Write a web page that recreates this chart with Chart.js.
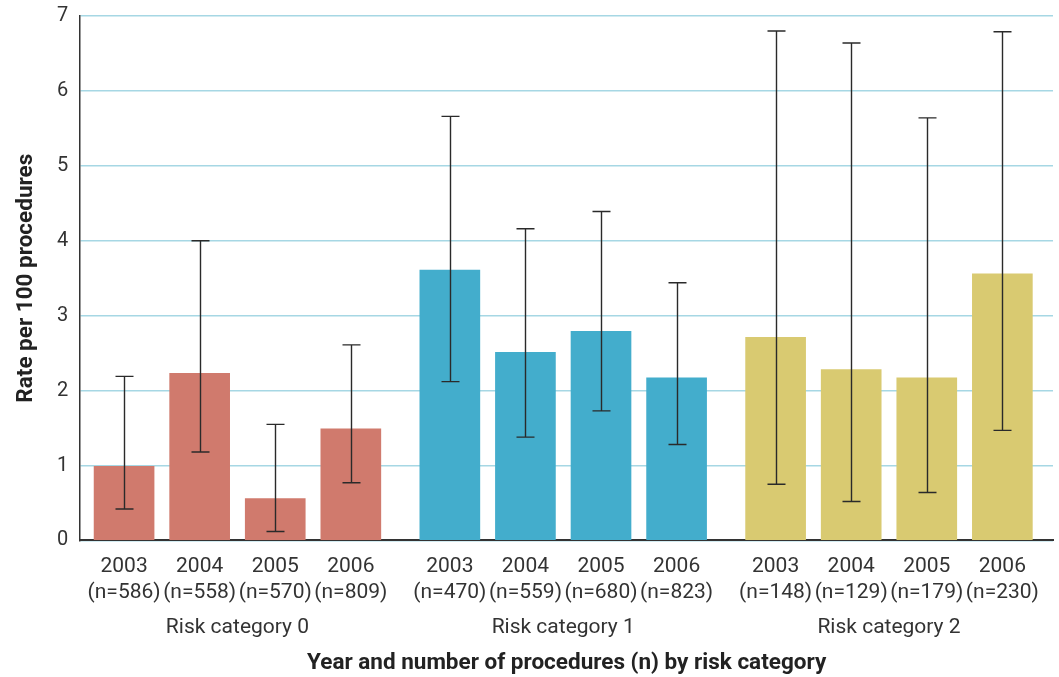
<!DOCTYPE html>
<html>
<head>
<meta charset="utf-8">
<script src="https://cdn.jsdelivr.net/npm/chart.js@4/dist/chart.umd.min.js"></script>
<style>
  html, body { margin: 0; padding: 0; background: #ffffff; }
  #wrap { width: 1059px; height: 677px; }
</style>
</head>
<body>
<div id="wrap"><canvas id="chart" width="1059" height="677"></canvas></div>
<script>
// Years and risk categories
const years = ['2003', '2004', '2005', '2006'];
const riskCategories = ['Risk category 0', 'Risk category 1', 'Risk category 2'];

// Number of procedures per year, by risk category
const procedures0 = [586, 558, 570, 809];
const procedures1 = [470, 559, 680, 823];
const procedures2 = [148, 129, 179, 230];

// Rate per 100 procedures with lower / upper confidence limits
const rate0 = [0.99, 2.23, 0.56, 1.49];
const lower0 = [0.42, 1.18, 0.12, 0.77];
const upper0 = [2.19, 4.00, 1.55, 2.61];

const rate1 = [3.61, 2.51, 2.79, 2.17];
const lower1 = [2.12, 1.38, 1.73, 1.28];
const upper1 = [5.66, 4.16, 4.39, 3.44];

const rate2 = [2.71, 2.28, 2.17, 3.56];
const lower2 = [0.75, 0.52, 0.64, 1.47];
const upper2 = [6.80, 6.64, 5.64, 6.79];

// Y-axis ticks
const yTicks = [0, 1, 2, 3, 4, 5, 6, 7];

// ---- layout helpers ----
// Bars sit one slot apart; each risk category group is separated by an extra gap.
const GROUP_GAP = 1.31;
function posOf(g, j) { return g * (years.length - 1 + GROUP_GAP) + j; }

const groups = [
  { procedures: procedures0, rate: rate0, lower: lower0, upper: upper0, color: '#D07A6D' },
  { procedures: procedures1, rate: rate1, lower: lower1, upper: upper1, color: '#43ADCC' },
  { procedures: procedures2, rate: rate2, lower: lower2, upper: upper2, color: '#D9CA71' }
];

const barPositions = [];
const barLabels = [];
groups.forEach((grp, g) => {
  years.forEach((yr, j) => {
    barPositions.push(posOf(g, j));
    barLabels.push([yr, '(n=' + grp.procedures[j] + ')']);
  });
});
const groupCenters = riskCategories.map((_, g) => posOf(g, (years.length - 1) / 2));

const datasets = groups.map((grp, g) => ({
  label: riskCategories[g],
  data: years.map((_, j) => ({ x: posOf(g, j), y: grp.rate[j], lo: grp.lower[j], hi: grp.upper[j] })),
  backgroundColor: grp.color,
  borderWidth: 0,
  barThickness: 60,
  grouped: false,
  xAxisID: 'x',
  yAxisID: 'y'
}));

// Confidence interval whiskers
const errorBars = {
  id: 'errorBars',
  afterDatasetsDraw(chart) {
    const { ctx } = chart;
    const yScale = chart.scales.y;
    ctx.save();
    ctx.strokeStyle = '#2a2a2a';
    ctx.lineWidth = 1.4;
    chart.data.datasets.forEach((ds, di) => {
      const meta = chart.getDatasetMeta(di);
      meta.data.forEach((bar, i) => {
        const pt = ds.data[i];
        const x = Math.round(bar.x) + 0.5;
        const yHi = yScale.getPixelForValue(pt.hi);
        const yLo = yScale.getPixelForValue(pt.lo);
        const cap = 9;
        ctx.beginPath();
        ctx.moveTo(x, yHi); ctx.lineTo(x, yLo);
        ctx.moveTo(x - cap, yHi); ctx.lineTo(x + cap, yHi);
        ctx.moveTo(x - cap, yLo); ctx.lineTo(x + cap, yLo);
        ctx.stroke();
      });
    });
    ctx.restore();
  }
};

const FONT = "Roboto, 'Liberation Sans', Arial, sans-serif";
const xMin = -0.58;
const xMax = posOf(groups.length - 1, years.length - 1) + 0.67;

new Chart(document.getElementById('chart'), {
  type: 'bar',
  data: { datasets },
  options: {
    responsive: false,
    animation: false,
    events: [],
    layout: { padding: { top: 16, right: 6, left: 0, bottom: 0 } },
    plugins: { legend: { display: false }, tooltip: { enabled: false } },
    scales: {
      x: {
        type: 'linear',
        position: 'bottom',
        offset: false,
        min: xMin,
        max: xMax,
        grid: { display: false, drawTicks: false, offset: false },
        border: { display: true, color: '#333333', width: 2 },
        afterBuildTicks: (scale) => { scale.ticks = barPositions.map(v => ({ value: v })); },
        afterFit: (scale) => { scale.height = 65; },
        ticks: {
          autoSkip: false,
          maxRotation: 0,
          minRotation: 0,
          padding: 13,
          color: '#333333',
          font: { family: FONT, size: 21, lineHeight: 1.25 },
          callback: (value, index) => barLabels[index]
        }
      },
      x2: {
        type: 'linear',
        position: 'bottom',
        offset: false,
        min: xMin,
        max: xMax,
        grid: { display: false, drawTicks: false, offset: false },
        border: { display: false },
        afterBuildTicks: (scale) => { scale.ticks = groupCenters.map(v => ({ value: v })); },
        ticks: {
          autoSkip: false,
          maxRotation: 0,
          minRotation: 0,
          padding: 10,
          color: '#333333',
          font: { family: FONT, size: 21, lineHeight: 1.2 },
          callback: (value, index) => riskCategories[index]
        },
        title: {
          display: true,
          text: 'Year and number of procedures (n) by risk category',
          color: '#222222',
          font: { family: FONT, size: 22.5, weight: 'bold', lineHeight: 1.17 },
          padding: { top: 0, bottom: 0 }
        }
      },
      y: {
        min: 0,
        max: 7,
        afterBuildTicks: (scale) => { scale.ticks = yTicks.map(v => ({ value: v })); },
        afterFit: (scale) => { scale.paddingTop = 0; scale.paddingBottom = 0; },
        grid: { color: '#A6D7E4', lineWidth: 1.5, drawTicks: false },
        border: { display: true, color: '#333333', width: 1.5 },
        ticks: {
          padding: 12,
          color: '#333333',
          font: { family: FONT, size: 20 }
        },
        title: {
          display: true,
          text: 'Rate per 100 procedures',
          color: '#222222',
          font: { family: FONT, size: 22.5, weight: 'bold', lineHeight: 1.2 },
          padding: { top: 13, bottom: 5 }
        }
      }
    }
  },
  plugins: [errorBars]
});
</script>
</body>
</html>
